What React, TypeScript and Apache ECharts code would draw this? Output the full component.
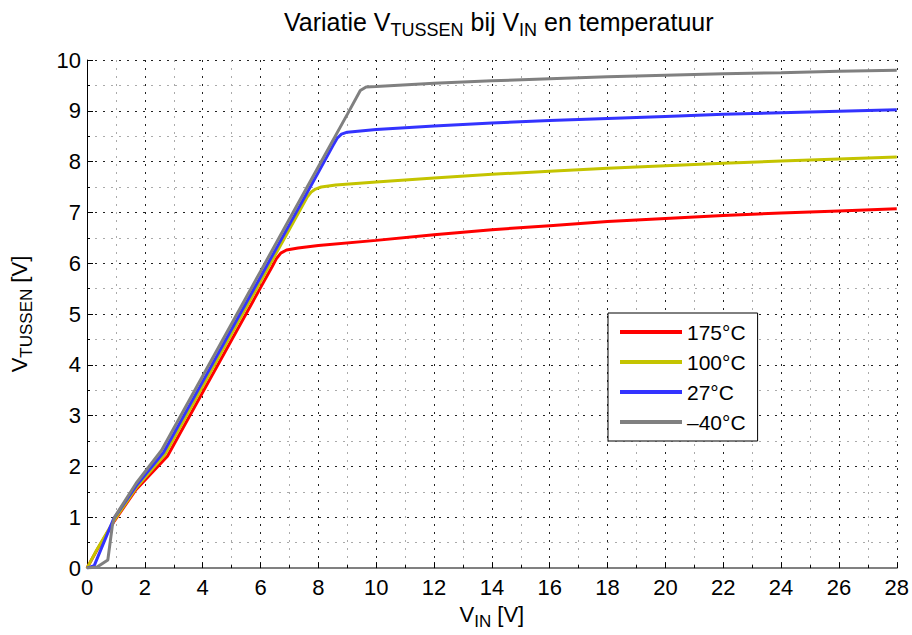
import React, { useEffect, useRef } from "react";
import * as echarts from "echarts";

const seriesNames = ["175°C", "100°C", "27°C", "\u201340°C"];
const seriesColors = ["#ff0000", "#c4c400", "#3333ff", "#808080"];

const red175: number[][] = [
  [0, 0], [0.35, 0.36], [0.95, 0.93], [1.7, 1.55], [2.78, 2.2], [4, 3.46], [5, 4.49],
  [6, 5.52], [6.4, 5.93], [6.55, 6.09], [6.7, 6.2], [6.9, 6.26], [7.3, 6.3], [8, 6.35],
  [10, 6.45], [12, 6.56], [14, 6.66], [16, 6.74], [18, 6.82], [20, 6.88], [22, 6.94],
  [24, 6.99], [26, 7.03], [28, 7.07],
];
const yellow100: number[][] = [
  [0, 0], [0.35, 0.37], [0.95, 0.95], [1.7, 1.58], [2.7, 2.24], [4, 3.58], [5, 4.61],
  [6, 5.64], [7, 6.67], [7.6, 7.29], [7.75, 7.4], [7.9, 7.46], [8.1, 7.5], [8.6, 7.54],
  [10, 7.6], [12, 7.68], [14, 7.75], [16, 7.81], [18, 7.87], [20, 7.92], [22, 7.97],
  [24, 8.01], [26, 8.05], [28, 8.09],
];
const blue27: number[][] = [
  [0, 0], [0.25, 0.05], [0.92, 0.97], [1.7, 1.62], [2.65, 2.28], [4, 3.67], [5, 4.7],
  [6, 5.73], [7, 6.76], [8, 7.79], [8.5, 8.31], [8.65, 8.46], [8.8, 8.54], [9, 8.58],
  [10, 8.63], [12, 8.7], [14, 8.76], [16, 8.81], [18, 8.85], [20, 8.89], [22, 8.93],
  [24, 8.96], [26, 8.99], [28, 9.02],
];
const gray40: number[][] = [
  [0, 0], [0.35, 0.02], [0.72, 0.16], [0.88, 0.85], [0.95, 1.0], [1.7, 1.67], [2.58, 2.32],
  [4, 3.78], [5, 4.81], [6, 5.84], [7, 6.87], [8, 7.9], [9, 8.93], [9.45, 9.4],
  [9.65, 9.47], [10, 9.48], [12, 9.54], [14, 9.59], [16, 9.63], [18, 9.67], [20, 9.7],
  [22, 9.73], [24, 9.75], [26, 9.78], [28, 9.8],
];
const seriesData = [red175, yellow100, blue27, gray40];

const xMin = 0, xMax = 28, xStep = 2;
const yMin = 0, yMax = 10, yStep = 1;

const FONT = "'Liberation Sans', Arial, Helvetica, sans-serif";

function richFor(main: number, sub: number, mainLH: number, subLH: number, shift: number) {
  return {
    a: { fontSize: main, lineHeight: mainLH, verticalAlign: "top", fontFamily: FONT, color: "#000", fontWeight: "normal" },
    s: { fontSize: sub, lineHeight: subLH, padding: [shift, 0, 0, 0], verticalAlign: "top", fontFamily: FONT, color: "#000", fontWeight: "normal" },
  };
}

export default function App() {
  const ref = useRef<HTMLDivElement>(null);
  useEffect(() => {
    document.body.style.margin = "0";
    if (!ref.current) return;
    const chart = echarts.init(ref.current, null, { renderer: "svg" });
    const majorSplit = { show: true, lineStyle: { color: "#222", width: 1, type: [2, 6] } };
    const minorSplit = { show: true, lineStyle: { color: "#aaa", width: 1, type: [2, 6] } };
    chart.setOption({
      animation: false,
      backgroundColor: "#fff",
      title: {
        text: "{a|Variatie V}{s|TUSSEN}{a| bij V}{s|IN}{a| en temperatuur}",
        left: 284,
        top: 9,
        padding: 0,
        textStyle: { rich: richFor(25, 18, 27, 20, 12), fontFamily: FONT, fontWeight: "normal" },
      },
      grid: { left: 85, right: 13, top: 60, bottom: 61, containLabel: false },
      legend: {
        data: seriesNames.map((n) => ({ name: n, icon: "rect" })),
        orient: "vertical",
        left: 608,
        top: 313,
        padding: [8, 12, 8, 12],
        itemGap: 8,
        itemWidth: 62,
        itemHeight: 4,
        borderColor: "#000",
        borderWidth: 1,
        borderRadius: 0,
        backgroundColor: "#fff",
        textStyle: { fontSize: 21, lineHeight: 22, fontFamily: FONT, color: "#000" },
      },
      xAxis: {
        type: "value",
        min: xMin,
        max: xMax,
        interval: xStep,
        name: "{a|V}{s|IN}{a| [V]}",
        nameLocation: "middle",
        nameGap: 30,
        nameTextStyle: { rich: richFor(22, 17, 24, 18, 10) },
        axisLine: { show: true, onZero: false, lineStyle: { color: "#808080", width: 2 } },
        axisTick: { show: true, inside: true, length: 6, lineStyle: { color: "#000" } },
        minorTick: { show: true, splitNumber: 2, length: 3, lineStyle: { color: "#000" } },
        axisLabel: { fontSize: 22, color: "#000", fontFamily: FONT, margin: 8 },
        splitLine: majorSplit,
        minorSplitLine: minorSplit,
      },
      yAxis: {
        type: "value",
        min: yMin,
        max: yMax,
        interval: yStep,
        name: "{a|V}{s|TUSSEN}{a| [V]}",
        nameLocation: "middle",
        nameGap: 55,
        nameRotate: 90,
        nameTextStyle: { rich: richFor(22, 17, 24, 18, 10) },
        axisLine: { show: true, onZero: false, lineStyle: { color: "#000", width: 1 } },
        axisTick: { show: true, inside: true, length: 6, lineStyle: { color: "#000" } },
        minorTick: { show: true, splitNumber: 2, length: 3, lineStyle: { color: "#000" } },
        axisLabel: { fontSize: 22, color: "#000", fontFamily: FONT, margin: 6 },
        splitLine: majorSplit,
        minorSplitLine: minorSplit,
      },
      series: seriesNames.map((name, i) => ({
        name,
        type: "line",
        data: seriesData[i],
        showSymbol: false,
        symbol: "none",
        smooth: false,
        lineStyle: { color: seriesColors[i], width: 3 },
        itemStyle: { color: seriesColors[i] },
        z: 3 + i,
      })),
    });
    return () => chart.dispose();
  }, []);
  return <div ref={ref} style={{ width: 912, height: 635 }} />;
}
